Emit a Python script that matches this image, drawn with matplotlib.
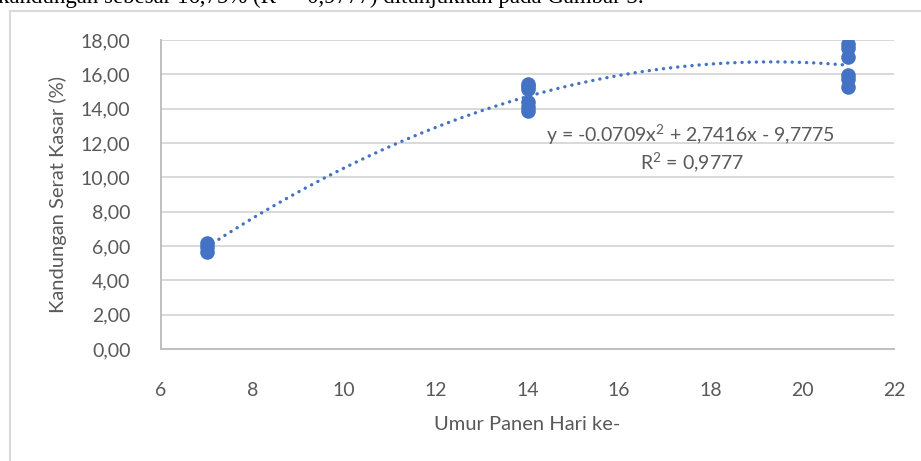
import matplotlib.pyplot as plt
from matplotlib.patches import Rectangle
import numpy as np

# harvest day (x) and crude fibre content (%)
day_7 = [6.20, 5.95, 5.65]
day_14 = [15.45, 15.30, 15.15, 14.40, 14.10, 13.85]
day_21 = [17.75, 17.55, 17.00, 15.95, 15.70, 15.25]
days = [7] * len(day_7) + [14] * len(day_14) + [21] * len(day_21)
fibre = day_7 + day_14 + day_21

# trendline coefficients as printed on the chart
coef = [-0.0709, 2.7416, -9.7775]
eq_text = 'y = -0.0709x$^2$ + 2,7416x - 9,7775'
r2_text = 'R$^2$ = 0,9777'

x_ticks = [6, 8, 10, 12, 14, 16, 18, 20, 22]
y_ticks = [0, 2, 4, 6, 8, 10, 12, 14, 16, 18]

blue = '#4472C4'
txt = '#595959'
plt.rcParams['font.family'] = ['Lato', 'DejaVu Sans']
plt.rcParams['mathtext.fontset'] = 'custom'
plt.rcParams['mathtext.rm'] = 'Lato'

fig = plt.figure(figsize=(9.21, 4.61), dpi=100)
ax = fig.add_axes([161/921, 1 - 349/461, (894 - 161)/921, (349 - 40)/461])

# chart frame and the cut-off sentence above it
fig.patches.append(Rectangle((10/921, -0.1), 1.2, 1 - 11/461 + 0.1, transform=fig.transFigure,
                             fill=False, edgecolor='#D9D9D9', lw=1.5))
fig.text(-2/921, 1 - 3/461, 'kandungan sebesar 16,75% (R² = 0,9777) ditunjukkan pada Gambar 3.',
         family='Liberation Serif', fontsize=16.5, color='black', va='baseline', ha='left')

ax.scatter(days, fibre, s=10.5**2, color=blue, zorder=3, linewidths=0)

xt = np.linspace(7, 21, 200)
ax.plot(xt, np.polyval(coef, xt), color=blue, lw=2.4, linestyle=(0, (0.05, 2.1)),
        dash_capstyle='round', zorder=2)

ax.set_xlim(6, 22)
ax.set_ylim(0, 18)
ax.set_xticks(x_ticks)
ax.set_yticks(y_ticks)
ax.set_yticklabels([f'{v:.2f}'.replace('.', ',') for v in y_ticks])
ax.tick_params(length=0, labelsize=14, labelcolor=txt)
ax.tick_params(axis='y', pad=22)
ax.tick_params(axis='x', pad=24)
ax.grid(axis='y', color='#D9D9D9', lw=1.4)
ax.set_axisbelow(True)
for s in ['top', 'right']:
    ax.spines[s].set_visible(False)
for s in ['left', 'bottom']:
    ax.spines[s].set_color('#BFBFBF')
    ax.spines[s].set_linewidth(1.4)

ax.set_xlabel('Umur Panen Hari ke-', fontsize=14.5, color=txt, labelpad=12)
ax.set_ylabel('Kandungan Serat Kasar (%)', fontsize=14.5, color=txt, labelpad=10)

ax.text(691/921, 1 - 135/461, eq_text, transform=fig.transFigure, ha='center', va='center',
        fontsize=14, color=txt)
ax.text(692/921, 1 - 163/461, r2_text, transform=fig.transFigure, ha='center', va='center',
        fontsize=14, color=txt)

fig.savefig('out.png', dpi=100)
